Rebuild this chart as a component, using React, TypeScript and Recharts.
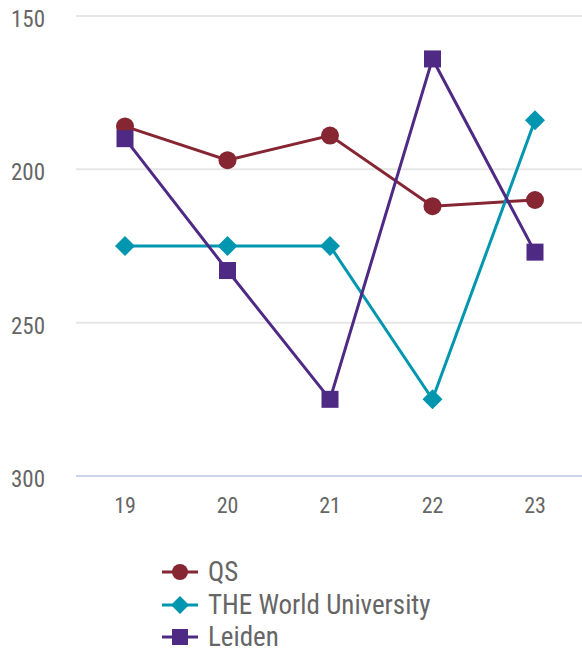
import React from 'react';
import { LineChart, Line, XAxis, YAxis, CartesianGrid, Legend } from 'recharts';

const categories = ['19', '20', '21', '22', '23'];
const qsValues = [186, 197, 189, 212, 210];
const theValues = [225, 225, 225, 275, 184];
const leidenValues = [190, 233, 275, 164, 227];
const yTicks = [150, 200, 250, 300];

const seriesNames = ['QS', 'THE World University', 'Leiden'];
const COLORS = { qs: '#862633', the: '#0096b0', leiden: '#4e2a84' };

const data = categories.map((c, i) => ({
  year: c,
  qs: qsValues[i],
  the: theValues[i],
  leiden: leidenValues[i],
}));

const FONT = "'Roboto Condensed', 'Liberation Sans Narrow', 'DejaVu Sans Condensed', 'Arial Narrow', Roboto, sans-serif";

const CircleDot = (props: any) => {
  const { cx, cy } = props;
  if (cx == null || cy == null) return null;
  return <circle key={`c-${cx}`} cx={cx} cy={cy} r={9} fill={COLORS.qs} />;
};
const DiamondDot = (props: any) => {
  const { cx, cy } = props;
  if (cx == null || cy == null) return null;
  const s = 10;
  return (
    <path
      key={`d-${cx}`}
      d={`M${cx},${cy - s}L${cx + s},${cy}L${cx},${cy + s}L${cx - s},${cy}Z`}
      fill={COLORS.the}
    />
  );
};
const SquareDot = (props: any) => {
  const { cx, cy } = props;
  if (cx == null || cy == null) return null;
  const s = 8.5;
  return <rect key={`s-${cx}`} x={cx - s} y={cy - s} width={2 * s} height={2 * s} fill={COLORS.leiden} />;
};

const legendIcon = (kind: string, color: string) => {
  let marker: React.ReactNode = null;
  if (kind === 'circle') marker = <circle cx={18} cy={16} r={8} fill={color} />;
  if (kind === 'diamond') marker = <path d="M18,7L27,16L18,25L9,16Z" fill={color} />;
  if (kind === 'square') marker = <rect x={10} y={8} width={16} height={16} fill={color} />;
  return (
    <svg width={36} height={32} style={{ display: 'block' }}>
      <line x1={0} y1={16} x2={36} y2={16} stroke={color} strokeWidth={3} />
      {marker}
    </svg>
  );
};

const legendItems = [
  { name: seriesNames[0], kind: 'circle', color: COLORS.qs },
  { name: seriesNames[1], kind: 'diamond', color: COLORS.the },
  { name: seriesNames[2], kind: 'square', color: COLORS.leiden },
];

const LegendContent = () => (
  <div style={{ paddingTop: 1, paddingLeft: 162, height: 95, boxSizing: 'border-box' }}>
    {legendItems.map((it) => (
      <div
        key={it.name}
        style={{ display: 'flex', alignItems: 'center', height: 32.5 }}
      >
        {legendIcon(it.kind, it.color)}
        <span
          style={{
            marginLeft: 10,
            fontFamily: FONT,
            fontStretch: 'condensed',
            fontSize: 27,
            color: '#666666',
            lineHeight: '26px',
            whiteSpace: 'nowrap',
          }}
        >
          {it.name}
        </span>
      </div>
    ))}
  </div>
);

export default function App() {
  return (
    <div style={{ width: 582, height: 650 }}>
      <style>{`body{margin:0;}`}</style>
      <LineChart
        width={582}
        height={650}
        data={data}
        margin={{ top: 16, right: 0, left: 0, bottom: 0 }}
      >
        <CartesianGrid vertical={false} stroke="#e6e6e6" strokeWidth={2} />
        <XAxis
          dataKey="year"
          padding={{ left: 49, right: 47 }}
          tickLine={false}
          axisLine={{ stroke: '#ccd6eb', strokeWidth: 2 }}
          tick={{ fontSize: 22, fill: '#666666', fontFamily: FONT, fontStretch: 'condensed' } as any}
          tickMargin={15}
          height={79}
        />
        <YAxis
          reversed
          domain={[150, 300]}
          ticks={yTicks}
          width={76}
          axisLine={false}
          tickLine={false}
          tickMargin={25}
          tick={{ fontSize: 23, fill: '#666666', fontFamily: FONT, fontStretch: 'condensed', dy: 3 } as any}
          interval={0}
        />
        <Legend
          layout="horizontal"
          verticalAlign="bottom"
          align="left"
          wrapperStyle={{ left: 0, bottom: 0, width: 582, height: 95 }}
          content={LegendContent}
        />
        <Line
          type="linear"
          dataKey="qs"
          name={seriesNames[0]}
          stroke={COLORS.qs}
          strokeWidth={3}
          dot={CircleDot}
          activeDot={false}
          isAnimationActive={false}
        />
        <Line
          type="linear"
          dataKey="the"
          name={seriesNames[1]}
          stroke={COLORS.the}
          strokeWidth={3}
          dot={DiamondDot}
          activeDot={false}
          isAnimationActive={false}
        />
        <Line
          type="linear"
          dataKey="leiden"
          name={seriesNames[2]}
          stroke={COLORS.leiden}
          strokeWidth={3}
          dot={SquareDot}
          activeDot={false}
          isAnimationActive={false}
        />
      </LineChart>
    </div>
  );
}
